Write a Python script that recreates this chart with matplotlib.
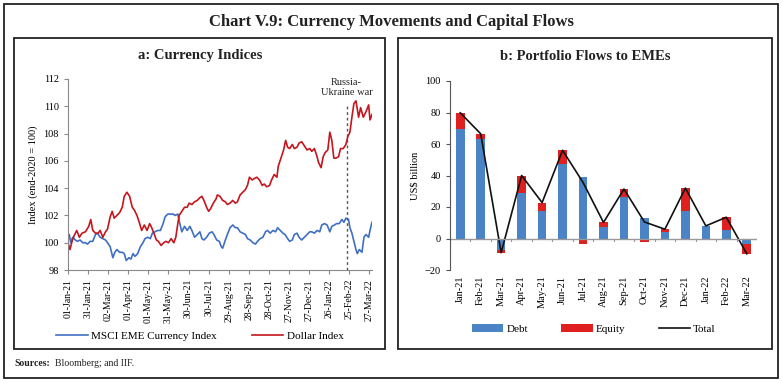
import datetime as dt
import numpy as np
import matplotlib
matplotlib.use("Agg")
import matplotlib.pyplot as plt
import matplotlib.dates as mdates
from matplotlib.patches import Rectangle

# panel a: days since 01-Jan-2021 and index levels (end-2020 = 100)
dollar_days = [0, 3, 6, 9, 13, 17, 21, 26, 31, 34, 37, 41, 45, 48, 52, 56, 59, 63, 66, 69,
               73, 77, 81, 84, 88, 92, 96, 99, 103, 107, 110, 114, 118, 122, 125, 129, 132,
               135, 139, 143, 146, 150, 154, 158, 161, 164, 166, 170, 174, 178, 181, 185,
               189, 193, 197, 200, 203, 207, 210, 213, 217, 221, 223, 227, 231, 235, 238,
               242, 246, 250, 253, 257, 261, 265, 268, 271, 275, 278, 282, 286, 290, 293,
               297, 301, 304, 308, 312, 314, 318, 322, 325, 328, 331, 335, 338, 342, 345,
               349, 353, 357, 361, 364, 368, 372, 374, 378, 381, 384, 388, 391, 394, 397,
               400, 404, 407, 411, 415, 418, 421, 424, 427, 430, 434, 437, 441, 445, 449,
               451, 454]
dollar_index = [100.0, 99.5, 100.1, 100.5, 100.9, 100.4, 100.7, 100.8, 101.2, 101.7, 100.9,
                100.7, 100.7, 100.9, 100.4, 100.8, 101.0, 101.9, 102.3, 101.8, 102.0, 102.2,
                102.6, 103.4, 103.7, 103.4, 102.6, 102.4, 102.0, 101.4, 100.9, 101.3, 100.9,
                101.4, 101.1, 100.6, 100.2, 100.1, 99.8, 100.0, 100.1, 100.0, 100.3, 100.0,
                100.4, 101.4, 102.0, 102.3, 102.6, 102.6, 102.9, 102.8, 103.0, 103.1, 103.3,
                103.4, 103.1, 102.6, 102.3, 102.5, 102.9, 103.2, 103.5, 103.4, 103.1, 103.0,
                102.8, 102.9, 103.1, 102.9, 103.0, 103.5, 103.7, 103.9, 104.2, 104.8, 104.6,
                104.7, 104.8, 104.6, 104.2, 104.3, 104.1, 104.2, 104.6, 105.0, 104.8, 105.6,
                106.2, 106.8, 107.5, 107.0, 106.9, 107.2, 106.9, 107.0, 107.3, 107.4, 107.1,
                106.8, 106.9, 106.7, 106.9, 106.3, 105.9, 105.5, 106.3, 106.6, 106.8, 108.1,
                107.5, 106.2, 106.2, 106.3, 106.9, 106.9, 107.2, 107.8, 108.1, 109.2, 110.2,
                110.4, 109.2, 109.9, 109.2, 109.6, 110.1, 109.0, 109.4]

msci_days = [0, 2, 4, 7, 11, 14, 18, 22, 26, 29, 33, 37, 41, 44, 48, 52, 56, 59, 63, 67, 70,
             73, 77, 81, 84, 87, 91, 94, 97, 100, 104, 108, 112, 115, 119, 123, 126, 130,
             134, 138, 142, 145, 149, 153, 157, 160, 164, 167, 170, 174, 178, 182, 185, 189,
             193, 197, 200, 203, 207, 211, 215, 218, 222, 226, 229, 231, 235, 238, 242, 246,
             250, 253, 257, 261, 265, 268, 272, 276, 280, 283, 287, 291, 295, 298, 302, 306,
             310, 313, 317, 321, 324, 328, 331, 335, 338, 342, 345, 349, 353, 357, 361, 364,
             368, 372, 376, 379, 383, 387, 391, 394, 398, 401, 405, 409, 412, 415, 419, 421,
             424, 427, 430, 432, 435, 439, 442, 445, 449, 451, 454]
msci_index = [100.2, 100.6, 100.0, 100.4, 100.2, 100.1, 100.2, 100.0, 100.0, 99.9, 100.1,
              100.1, 100.6, 100.7, 100.4, 100.3, 100.2, 100.0, 99.7, 98.9, 99.3, 99.5, 99.3,
              99.3, 99.2, 98.7, 98.9, 98.8, 99.2, 99.0, 99.2, 99.7, 100.0, 100.3, 100.4,
              100.3, 100.7, 100.8, 100.9, 100.9, 101.4, 101.9, 102.1, 102.1, 102.1, 102.0,
              102.1, 101.4, 100.8, 101.2, 100.9, 101.2, 100.9, 100.4, 100.6, 100.8, 100.3,
              100.2, 100.4, 100.7, 100.8, 100.6, 100.2, 100.1, 99.7, 99.6, 100.2, 100.6,
              101.1, 101.3, 101.1, 101.1, 100.8, 100.7, 100.6, 100.3, 100.2, 100.0, 99.9,
              100.1, 100.3, 100.4, 100.8, 100.9, 100.7, 100.9, 100.8, 101.1, 100.9, 100.7,
              100.6, 100.3, 100.1, 100.2, 100.6, 100.7, 100.4, 100.2, 100.4, 100.6, 100.8,
              100.8, 100.7, 100.9, 100.8, 101.3, 101.4, 101.3, 100.8, 101.2, 101.3, 101.4,
              101.4, 101.7, 101.5, 101.8, 101.7, 101.1, 100.7, 100.1, 99.5, 99.2, 99.5, 99.3,
              100.4, 100.6, 100.4, 100.9, 101.5]

war_day = 416

# panel b: portfolio flows to EMEs, US$ billion
months = ["Jan-21", "Feb-21", "Mar-21", "Apr-21", "May-21", "Jun-21", "Jul-21", "Aug-21",
          "Sep-21", "Oct-21", "Nov-21", "Dec-21", "Jan-22", "Feb-22", "Mar-22"]
debt = [69.5, 63.3, -7.0, 28.7, 17.7, 47.0, 39.0, 7.4, 26.4, 12.7, 4.2, 17.5, 8.2, 5.7, -3.5]
equity = [10.3, 3.2, -2.0, 11.3, 5.1, 9.0, -3.4, 2.8, 5.0, -2.2, 1.7, 14.5, -0.2, 7.8, -6.2]
total = [79.8, 66.5, -9.0, 40.0, 22.8, 56.0, 35.6, 10.2, 31.4, 10.5, 5.9, 32.0, 8.0, 13.5, -9.7]

SERIF = "Liberation Serif"
BLUE_LINE = "#3f6fc2"
RED_LINE = "#c4161c"
BLUE_BAR = "#4a84c6"
RED_BAR = "#df2020"


def main():
    plt.rcParams["font.family"] = SERIF
    fig = plt.figure(figsize=(7.83, 3.83), dpi=100)

    # frames
    fig.patches.append(Rectangle((4 / 783, 5 / 383), 774 / 783, 374 / 383,
                                 transform=fig.transFigure, fill=False, lw=1.3, ec="#222222"))
    for x0, x1 in [(14, 385), (398, 772)]:
        fig.patches.append(Rectangle((x0 / 783, 34 / 383), (x1 - x0) / 783, 311 / 383,
                                     transform=fig.transFigure, fill=False, lw=1.3, ec="#222222"))

    fig.text(0.5, 1 - 22 / 383, "Chart V.9: Currency Movements and Capital Flows",
             ha="center", va="center", fontsize=12, fontweight="bold", color="#222222")
    fig.text(200 / 783, 1 - 56 / 383, "a: Currency Indices", ha="center", va="center",
             fontsize=10.5, fontweight="bold", color="#222222")
    fig.text(585 / 783, 1 - 56 / 383, "b: Portfolio Flows to EMEs", ha="center", va="center",
             fontsize=10.5, fontweight="bold", color="#222222")
    fig.text(14 / 783, 1 - 363 / 383, "Sources:", ha="left", va="center", fontsize=7,
             fontweight="bold", color="#222222")
    fig.text(55 / 783, 1 - 363 / 383, "Bloomberg; and IIF.", ha="left", va="center",
             fontsize=7, color="#222222")

    # ---- panel a
    base = dt.datetime(2021, 1, 1)
    ax1 = fig.add_axes([68 / 783, 1 - 270 / 383, 304 / 783, 191 / 383])
    d_dates = [base + dt.timedelta(days=d) for d in dollar_days]
    m_dates = [base + dt.timedelta(days=d) for d in msci_days]
    ax1.plot(m_dates, msci_index, color=BLUE_LINE, lw=1.2, label="MSCI EME Currency Index")
    ax1.plot(d_dates, dollar_index, color=RED_LINE, lw=1.2, label="Dollar Index")
    war = base + dt.timedelta(days=war_day)
    ax1.plot([war, war], [98, 110.1], color="#555555", lw=1.0, ls=(0, (2, 2)))
    ax1.text(war, 111.4, "Russia-\nUkraine war", ha="center", va="center", fontsize=7.5,
             color="#222222", linespacing=1.1)
    ax1.set_xlim(base, base + dt.timedelta(days=454))
    ax1.set_ylim(98, 112)
    ax1.set_yticks(np.arange(98, 113, 2))
    ticks = [base + dt.timedelta(days=30 * i) for i in range(16)]
    ax1.set_xticks(ticks)
    ax1.xaxis.set_major_formatter(mdates.DateFormatter("%d-%b-%y"))
    ax1.tick_params(axis="x", rotation=90, labelsize=7, length=3, color="#888888")
    ax1.tick_params(axis="y", labelsize=7.5, length=3, color="#888888")
    for s in ["top", "right"]:
        ax1.spines[s].set_visible(False)
    for s in ["left", "bottom"]:
        ax1.spines[s].set_color("#888888")
    ax1.set_ylabel("Index (end-2020 = 100)", fontsize=7.5, labelpad=4)
    ax1.legend(loc="center", bbox_to_anchor=(200 / 783, 1 - 336 / 383),
               bbox_transform=fig.transFigure, ncol=2, frameon=False, fontsize=8,
               handlelength=2.8, columnspacing=3.2, handletextpad=0.3)

    # ---- panel b
    ax2 = fig.add_axes([450 / 783, 1 - 270 / 383, 307 / 783, 189 / 383])
    x = np.arange(len(months))
    debt_a = np.array(debt)
    eq_a = np.array(equity)
    bottom = np.where(eq_a >= 0, np.maximum(debt_a, 0), np.minimum(debt_a, 0))
    b1 = ax2.bar(x, debt_a, width=0.42, color=BLUE_BAR, label="Debt")
    b2 = ax2.bar(x, eq_a, width=0.42, bottom=bottom, color=RED_BAR, label="Equity")
    l1, = ax2.plot(x, total, color="#111111", lw=1.2, label="Total")
    ax2.axhline(0, color="#999999", lw=1.0)
    for b in np.arange(-0.5, len(months), 1.0):
        ax2.plot([b, b], [0, -1.3], color="#999999", lw=0.8)
    ax2.set_xlim(-0.5, len(months) - 0.5)
    ax2.set_ylim(-20, 100)
    ax2.set_yticks(np.arange(-20, 101, 20))
    ax2.set_xticks(x)
    ax2.set_xticklabels(months, rotation=90)
    ax2.tick_params(axis="x", labelsize=7.5, length=0, pad=4)
    ax2.tick_params(axis="y", labelsize=7.5, length=3, color="#555555")
    for s in ["top", "right", "bottom"]:
        ax2.spines[s].set_visible(False)
    ax2.spines["left"].set_color("#555555")
    ax2.set_ylabel("US$ billion", fontsize=7.5, labelpad=4)
    ax2.legend([b1, b2, l1], ["Debt", "Equity", "Total"], loc="center",
               bbox_to_anchor=(594 / 783, 1 - 329 / 383),
               bbox_transform=fig.transFigure, ncol=3, frameon=False, fontsize=8,
               handlelength=2.8, handleheight=0.8, columnspacing=3.0, handletextpad=0.3)

    fig.savefig("out.png", dpi=100)


if __name__ == "__main__":
    main()
